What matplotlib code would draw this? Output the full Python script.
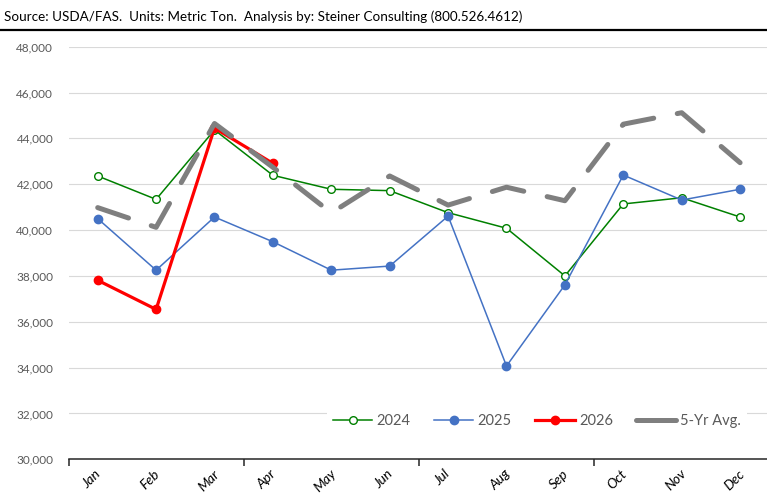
import numpy as np
import matplotlib.pyplot as plt
import matplotlib.transforms as mtransforms
from matplotlib.lines import Line2D
from matplotlib.ticker import FuncFormatter, FixedLocator

months = ['Jan', 'Feb', 'Mar', 'Apr', 'May', 'Jun', 'Jul', 'Aug', 'Sep', 'Oct', 'Nov', 'Dec']
y2024 = [42360, 41340, 44370, 42390, 41780, 41720, 40760, 40080, 38000, 41140, 41410, 40570]
y2025 = [40500, 38250, 40570, 39490, 38250, 38430, 40610, 34070, 37610, 42400, 41310, 41780]
y2026 = [37810, 36540, 44450, 42910]
avg5 = [40980, 40120, 44650, 42740, 40750, 42360, 41090, 41870, 41280, 44620, 45120, 42940]

W, H = 767, 495
fig = plt.figure(figsize=(W / 100, H / 100), dpi=100)
ax = fig.add_axes([68.5 / W, 35.7 / H, 700.8 / W, 412.6 / H])

x = np.arange(len(months))

# excel order: 2024, 2025, 2026, then 5yr avg on top
ax.plot(x, y2024, color='#008000', lw=1.1, marker='o', ms=5.5, mfc='white',
        mec='#008000', mew=1.0, label='2024', zorder=3)
ax.plot(x, y2025, color='#4472c4', lw=1.1, marker='o', ms=6, mfc='#4472c4',
        mec='#4472c4', label='2025', zorder=4)
ax.plot(x[:len(y2026)], y2026, color='#ff0000', lw=2.3, marker='o', ms=6,
        mfc='#ff0000', mec='#ff0000', label='2026', zorder=5)
ax.plot(x, avg5, color='#7f7f7f', lw=3.6, linestyle=(0, (6.5, 4.8)),
        dash_capstyle='round', solid_capstyle='round', label='5-Yr Avg.', zorder=6)

ax.set_xlim(-0.5, 11.5)
ax.set_ylim(30000, 48000)
ax.set_yticks(np.arange(30000, 48001, 2000))
ax.yaxis.set_major_formatter(FuncFormatter(lambda v, p: f'{int(v):,}'))
ax.grid(axis='y', color='#d9d9d9', lw=0.8)
ax.set_axisbelow(True)
ax.tick_params(axis='y', length=0, pad=11, labelsize=8.5, labelcolor='#595959')

for s in ['top', 'right', 'left']:
    ax.spines[s].set_visible(False)
ax.spines['bottom'].set_color('#262626')
ax.spines['bottom'].set_linewidth(1.1)

# tick marks every 3 months, labels at month centres
ax.xaxis.set_major_locator(FixedLocator([-0.5, 2.5, 5.5, 8.5]))
ax.xaxis.set_major_formatter(FuncFormatter(lambda v, p: ''))
ax.xaxis.set_minor_locator(FixedLocator(x))
ax.set_xticklabels(months, minor=True, rotation=45, ha='center',
                   fontsize=10, fontstyle='italic', family='Lato')
ax.tick_params(axis='x', which='major', length=5, width=1.1, color='#262626')
ax.tick_params(axis='x', which='minor', length=0, pad=6)
shift = mtransforms.ScaledTranslation(-6 / 100, 0, fig.dpi_scale_trans)
for t in ax.xaxis.get_minorticklabels():
    t.set_transform(t.get_transform() + shift)

# legend: solid grey bar for the average, like excel
h, l = ax.get_legend_handles_labels()
h[3] = Line2D([], [], color='#7f7f7f', lw=3.6, solid_capstyle='round')
leg = ax.legend(h, l, ncol=4,
                loc='center', bbox_to_anchor=(0.6685, 0.093), frameon=True,
                fancybox=False, edgecolor='none', facecolor='white', framealpha=1,
                fontsize=10.5, handlelength=2.7, columnspacing=1.6, handletextpad=0.3,
                borderpad=0.4)
leg.set_zorder(7)
for t in leg.get_texts():
    t.set_color('#595959')
    t.set_family('Lato')

fig.text(4 / W, 1 - 17 / H, 'Source: USDA/FAS.  Units: Metric Ton.  Analysis by: Steiner Consulting (800.526.4612)',
         fontsize=9.7, family='Lato', va='center', ha='left', color='black')
fig.add_artist(plt.Line2D([0, 1], [1 - 30 / H, 1 - 30 / H], color='black', lw=1.6))

for t in ax.get_yticklabels():
    t.set_family('Lato')

fig.savefig('out.png', dpi=100)
